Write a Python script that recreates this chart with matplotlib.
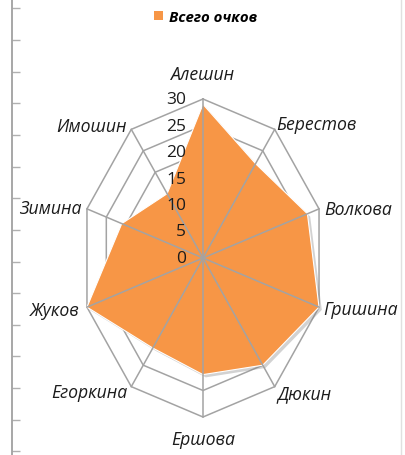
import numpy as np
import matplotlib
matplotlib.use("Agg")
import matplotlib.pyplot as plt
import matplotlib.patheffects as pe
from matplotlib.patches import Patch
from matplotlib.ticker import MultipleLocator

# Data (clockwise from the top)
names = ['Алешин', 'Берестов', 'Волкова', 'Гришина', 'Дюкин',
         'Ершова', 'Егоркина', 'Жуков', 'Зимина', 'Имошин']
points = [29, 22, 27, 30, 25, 22, 21, 30, 21, 15]
rings = [5, 10, 15, 20, 25, 30]
tick_labels = ['0', '5', '10', '15', '20', '25', '30']
series_name = 'Всего очков'

fill_color = '#F79646'
grid_color = '#A3A3A3'
text_color = '#1c1c1c'
fonts = ['Open Sans', 'DejaVu Sans']

# label offsets in pixels (dx, dy) and alignment, one per category
label_offsets = [(0, 25, 'center'), (2, 5, 'left'), (5, 0, 'left'), (4, -2, 'left'),
                 (3, -7, 'left'), (0, -22, 'center'), (-4, -5, 'right'),
                 (-7, -3, 'right'), (-5, 1, 'right'), (-5, 3, 'right')]

fig = plt.figure(figsize=(4.05, 4.56), dpi=100)

# stray axis line at the left edge of the picture
ax_side = fig.add_axes([12 / 405, 0, 0.001, 1])
ax_side.set_ylim(-3.6, 452.4)
ax_side.yaxis.set_major_locator(MultipleLocator(31.65))
ax_side.tick_params(axis='y', direction='in', length=6, width=1, color='#B0B0B0',
                    labelleft=False)
ax_side.set_xticks([])
for s in ['top', 'bottom', 'right']:
    ax_side.spines[s].set_visible(False)
ax_side.spines['left'].set_color('#A0A0A0')
ax_side.spines['left'].set_linewidth(1.3)
ax_side.patch.set_visible(False)

# main radar axes: horizontal radius 122 px, vertical 159 px (stretched chart)
ax = fig.add_axes([0, 0, 1, 1])
ax.set_xlim(-203 / 122 * 30, (405 - 203) / 122 * 30)
ax.set_ylim(-(456 - 259) / 159 * 30, 259 / 159 * 30)
ax.axis('off')

n = len(names)
angles = np.arange(n) * 2 * np.pi / n
sx = np.sin(angles)
cy = np.cos(angles)

# grid rings
for r in rings:
    ax.plot(np.append(r * sx, r * sx[0]), np.append(r * cy, r * cy[0]),
            color=grid_color, lw=1.1, zorder=1)

# filled series with a soft shadow
vals = np.array(points, dtype=float)
ax.fill(vals * sx, vals * cy, color=fill_color, ec='white', lw=0.8, zorder=2,
        path_effects=[pe.SimplePatchShadow(offset=(2, -2), shadow_rgbFace='#808080', alpha=0.35),
                      pe.Normal()])

# spokes on top of the fill
top = rings[-1]
for x, y in zip(sx, cy):
    ax.plot([0, top * x], [0, top * y], color=grid_color, lw=1.1, zorder=3)

# value labels along the vertical axis
for i, t in enumerate(tick_labels):
    ax.annotate(t, (0, i * 5), xytext=(-12, 0), textcoords='offset points',
                ha='right', va='center', fontsize=12.5, family=fonts, color=text_color, zorder=4)

# category labels
px = 72 / 100
for name, x, y, (dx, dy, ha) in zip(names, sx, cy, label_offsets):
    ax.annotate(name, (top * x, top * y), xytext=(dx * px, dy * px), textcoords='offset points',
                ha=ha, va='center', fontsize=12.7, style='italic', family=fonts,
                color=text_color, zorder=4)

# legend
fig.legend(handles=[Patch(facecolor=fill_color, edgecolor='none')], labels=[series_name],
           loc='center', bbox_to_anchor=(0.508, 1 - 18 / 456), frameon=False,
           handlelength=0.6, handleheight=0.6, handletextpad=0.45,
           prop={'family': fonts, 'style': 'italic', 'weight': 'bold', 'size': 10.8})

# faint line on the right border
fig.add_artist(plt.Line2D([401 / 405, 401 / 405], [0, 1], color='#E0E0E0', lw=1))

fig.savefig('out.png', dpi=100, facecolor='white')
